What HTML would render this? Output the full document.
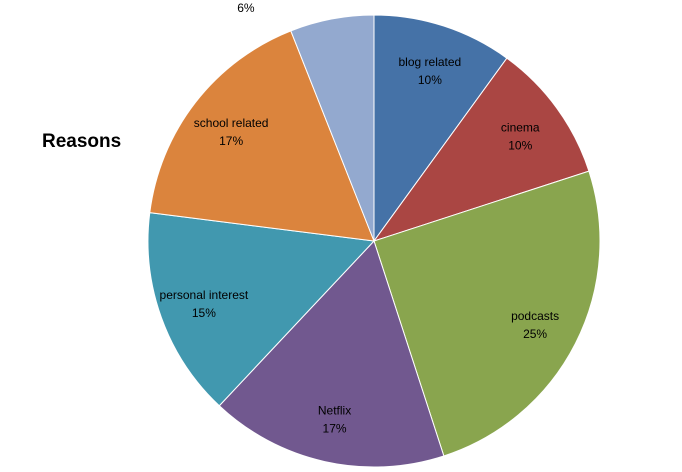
<!DOCTYPE html>
<html><head><meta charset="utf-8"><style>
body{margin:0;background:#fff;width:682px;height:467px;overflow:hidden;font-family:"Liberation Sans",Arial,sans-serif}
</style></head><body>
<svg width="682" height="467">
<text x="42" y="147" font-size="19" font-weight="bold" fill="#000">Reasons</text>
<g id="slices"></g><g id="labels"></g>
</svg>
<script>
const categories=["blog related","cinema","podcasts","Netflix","personal interest","school related","recommendations"];
const values=[10,10,25,17,15,17,6];
const colors=["#4572A7","#AA4643","#89A54E","#71588F","#4198AF","#DB843D","#93A9CF"];
const cx=374,cy=241,R=226,NS="http://www.w3.org/2000/svg";
const total=values.reduce((a,b)=>a+b,0);
const gs=document.getElementById('slices'),gl=document.getElementById('labels');
function pt(a,r){return [cx+r*Math.sin(a),cy-r*Math.cos(a)];}
let acc=0;
values.forEach((v,i)=>{
 const a0=acc/total*2*Math.PI;acc+=v;const a1=acc/total*2*Math.PI;
 const p0=pt(a0,R),p1=pt(a1,R);
 const p=document.createElementNS(NS,'path');
 p.setAttribute('d',`M${cx},${cy}L${p0[0]},${p0[1]}A${R},${R} 0 ${a1-a0>Math.PI?1:0} 1 ${p1[0]},${p1[1]}Z`);
 p.setAttribute('fill',colors[i]);p.setAttribute('stroke','#fff');p.setAttribute('stroke-width','1');
 
 
 gs.appendChild(p);
 const am=(a0+a1)/2;let lx,ly;
 const t=document.createElementNS(NS,'text');
 
 
 if(v/total<0.08){
  const e=pt(am,R+4);lx=e[0]-85;ly=e[1]-18;
  const l=document.createElementNS(NS,'polyline');
  l.setAttribute('points',`${lx+55},${ly-13} ${lx+60},${ly-13} ${lx+60},${ly-6}`);
  l.setAttribute('fill','none');l.setAttribute('stroke','#000');l.setAttribute('stroke-width','1');
  
  
  gl.appendChild(l);
 } else {const q=pt(am,R*0.8);lx=q[0];ly=q[1];}
 t.setAttribute('x',lx);t.setAttribute('y',ly);t.setAttribute('text-anchor','middle');t.setAttribute('font-size','12');t.setAttribute('fill','#000');
 t.innerHTML=`<tspan x="${lx}" dy="-3">${categories[i]}</tspan><tspan x="${lx}" dy="18">${Math.round(v/total*100)}%</tspan>`;
 gl.appendChild(t);
});
</script>
</body></html>
